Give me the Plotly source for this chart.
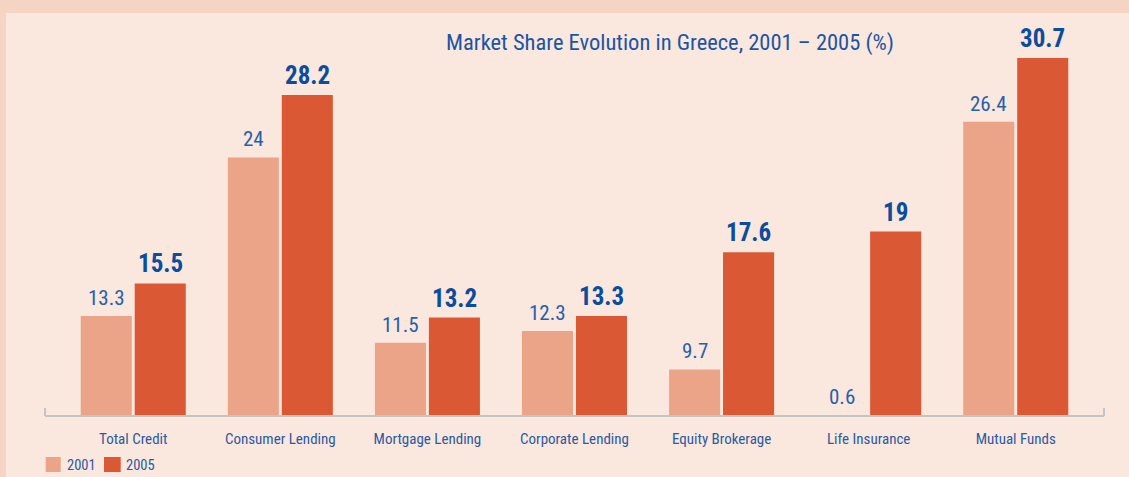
import plotly.graph_objects as go

categories = ["Total Credit", "Consumer Lending", "Mortgage Lending", "Corporate Lending",
              "Equity Brokerage", "Life Insurance", "Mutual Funds"]
share_2001 = [13.3, 24, 11.5, 12.3, 9.7, 0.6, 26.4]
share_2005 = [15.5, 28.2, 13.2, 13.3, 17.6, 19, 30.7]
series_names = ["2001", "2005"]
title_text = "Market Share Evolution in Greece, 2001 – 2005 (%)"

C2001 = "#eba487"
C2005 = "#da5834"
BORDER = "#f6d4c4"
INNER = "#fae7de"
AXIS = "#c4c4c4"
FONT = "Roboto Condensed, Roboto, sans-serif"

# figure geometry (pixels)
W, H = 1129, 477
ML, MR, MT, MB = 45, 25, 30, 62
PW, PH = W - ML - MR, H - MT - MB


def px_x(p):
    return (p - ML) / PW


def px_y(p):
    return (H - MB - p) / PH


y_min, y_max = 6.63, 32.59
half = 0.1835
bar_w = 0.347

x_idx = list(range(len(categories)))

fig = go.Figure()
fig.add_trace(go.Bar(x=x_idx, y=share_2001, name=series_names[0], marker_color=C2001,
                     width=bar_w, offset=-half - bar_w / 2, marker_line_width=0))
fig.add_trace(go.Bar(x=x_idx, y=share_2005, name=series_names[1], marker_color=C2005,
                     width=bar_w, offset=half - bar_w / 2, marker_line_width=0))

# value labels
for i, (a, b) in enumerate(zip(share_2001, share_2005)):
    fig.add_annotation(x=i - half, y=max(a, y_min), text=f"{a:g}", showarrow=False,
                       yanchor="bottom", yshift=4,
                       font=dict(family=FONT, size=21, color="#2660ab"))
    fig.add_annotation(x=i + half, y=max(b, y_min), text=f"<b>{b:g}</b>", showarrow=False,
                       yanchor="bottom", yshift=3,
                       font=dict(family=FONT, size=25, color="#0c4c9c"))

# border bands (top and left)
fig.add_shape(type="rect", xref="paper", yref="paper", x0=-0.2, x1=1.2,
              y0=px_y(13), y1=1.3, fillcolor=BORDER, line_width=0, layer="below")
fig.add_shape(type="rect", xref="paper", yref="paper", x0=-0.2, x1=px_x(6),
              y0=-0.5, y1=1.3, fillcolor=BORDER, line_width=0, layer="below")

# end ticks on the axis line
for xp in (0, 1):
    fig.add_shape(type="line", xref="paper", yref="paper", x0=xp, x1=xp,
                  y0=px_y(416), y1=px_y(408), line=dict(color=AXIS, width=2))

# legend (manual, so it can sit at the very bottom edge like the original)
legend_boxes = [(45.7, 60.7, 65), (104, 120.7, 124)]
for name, color, (bx0, bx1, tx) in zip(series_names, [C2001, C2005], legend_boxes):
    fig.add_shape(type="rect", xref="paper", yref="paper", x0=px_x(bx0), x1=px_x(bx1),
                  y0=px_y(472), y1=px_y(457), fillcolor=color, line_width=0)
    fig.add_annotation(xref="paper", yref="paper", x=px_x(tx), y=px_y(465.5), text=name,
                       showarrow=False, xanchor="left", yanchor="middle",
                       font=dict(family=FONT, size=14.5, color="#2a5aa3"))

fig.update_layout(
    width=W, height=H,
    margin=dict(l=ML, r=MR, t=MT, b=MB),
    paper_bgcolor=INNER,
    plot_bgcolor="rgba(0,0,0,0)",
    barmode="overlay",
    showlegend=False,
    title=dict(text=title_text,
               x=670 / W, xanchor="center", xref="container",
               y=1 - 42.5 / H, yanchor="middle", yref="container",
               font=dict(family=FONT, size=22.5, color="#1a55a3")),
    xaxis=dict(range=[-0.6, 6.6], tickvals=x_idx, ticktext=categories,
               showline=True, linecolor=AXIS, linewidth=2, showgrid=False, zeroline=False,
               ticks="", ticklabelstandoff=9,
               tickfont=dict(family=FONT, size=15, color="#2a5aa3")),
    yaxis=dict(range=[y_min, y_max], visible=False, showgrid=False, zeroline=False),
)

fig.write_html("out.html", config={"displayModeBar": False},
               post_script="document.body.style.margin='0';document.body.style.overflow='hidden';")
